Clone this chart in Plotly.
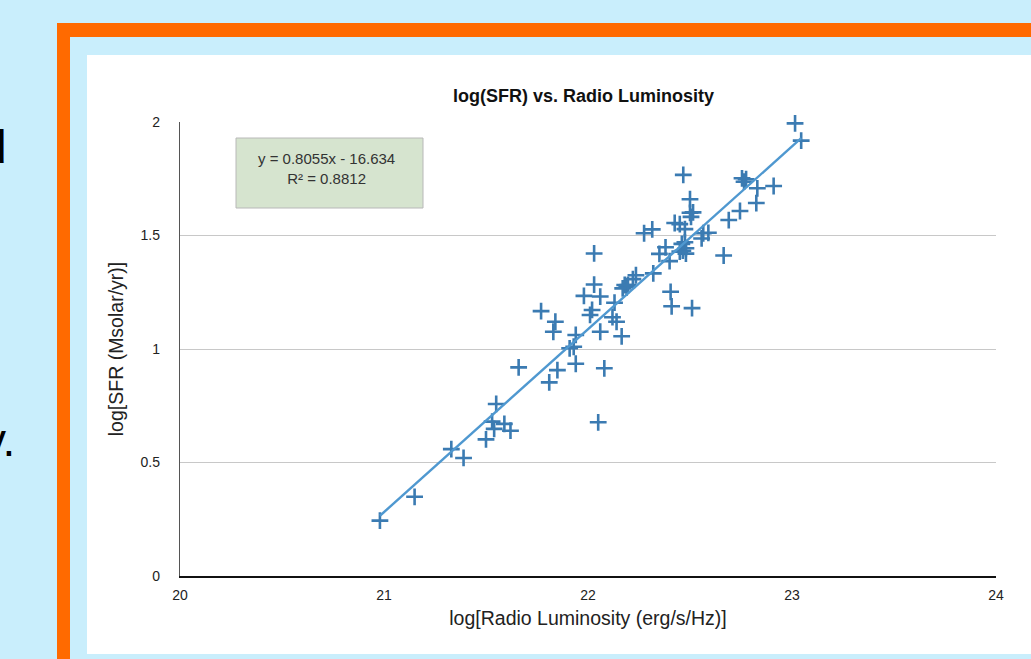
import plotly.graph_objects as go

# ---- data ----
radio_lum = [20.98, 21.15, 21.33, 21.39, 21.50, 21.55, 21.53, 21.54, 21.59, 21.62,
             21.66, 21.77, 21.84, 21.83, 21.81, 21.85, 21.94, 21.91, 21.93, 21.94,
             22.05, 22.08, 22.06, 22.165, 22.14, 22.12, 22.13, 22.01, 22.02, 21.98,
             22.06, 22.03, 22.03, 22.18, 22.19, 22.17, 22.22, 22.235, 22.32, 22.275,
             22.315, 22.35, 22.38, 22.40, 22.405, 22.41, 22.51, 22.425, 22.45, 22.465,
             22.48, 22.475, 22.46, 22.475, 22.50, 22.50, 22.515, 22.505, 22.557, 22.565,
             22.59, 22.665, 22.69, 22.745, 22.825, 22.755, 22.775, 22.765, 22.83, 22.91,
             23.015, 23.045, 22.467, 22.196, 22.48, 22.45]
log_sfr = [0.244, 0.349, 0.559, 0.520, 0.602, 0.758, 0.680, 0.648, 0.670, 0.640,
           0.919, 1.167, 1.120, 1.076, 0.853, 0.907, 1.062, 1.003, 1.010, 0.935,
           0.677, 0.915, 1.076, 1.056, 1.120, 1.140, 1.204, 1.150, 1.172, 1.234,
           1.231, 1.284, 1.421, 1.282, 1.272, 1.267, 1.308, 1.325, 1.333, 1.510,
           1.527, 1.419, 1.448, 1.387, 1.252, 1.188, 1.180, 1.555, 1.550, 1.433,
           1.420, 1.470, 1.463, 1.528, 1.660, 1.600, 1.602, 1.582, 1.487, 1.510,
           1.512, 1.412, 1.568, 1.608, 1.643, 1.752, 1.748, 1.737, 1.708, 1.718,
           1.994, 1.918, 1.767, 1.282, 1.444, 1.429]
fit_slope = 0.8055
fit_intercept = -16.634
fit_r2 = 0.8812
x_ticks = [20, 21, 22, 23, 24]
y_ticks = [0, 0.5, 1, 1.5, 2]

# ---- geometry ----
W, H = 1031, 659
L, R, T, B = 180, 35, 122, 83
PW, PH = W - L - R, H - T - B


def px(x):
    return (x - L) / PW


def py(y):
    return (T + PH - y) / PH


FONT = "Liberation Sans, Arial, Helvetica, sans-serif"

fit_x = [min(radio_lum), max(radio_lum)]
fit_y = [fit_slope * v + fit_intercept for v in fit_x]

fig = go.Figure()
fig.add_trace(go.Scatter(
    x=radio_lum, y=log_sfr, mode="markers", cliponaxis=False,
    marker=dict(symbol="cross-thin", size=12,
                line=dict(color="#3b7bb2", width=2.6)),
    showlegend=False, hoverinfo="x+y"))
fig.add_trace(go.Scatter(
    x=fit_x, y=fit_y, mode="lines",
    line=dict(color="#4f98d0", width=2.4),
    showlegend=False, hoverinfo="skip"))

shapes = [
    # orange frame
    dict(type="rect", xref="paper", yref="paper", x0=px(57), x1=px(1060),
         y0=py(23), y1=py(700), fillcolor="#ff6a00", line=dict(width=0), layer="below"),
    # inner light blue
    dict(type="rect", xref="paper", yref="paper", x0=px(70), x1=px(1060),
         y0=py(37), y1=py(700), fillcolor="#c9eefc", line=dict(width=0), layer="below"),
    # white panel
    dict(type="rect", xref="paper", yref="paper", x0=px(87), x1=px(1060),
         y0=py(55), y1=py(654), fillcolor="#ffffff", line=dict(width=0), layer="below"),
    # equation box
    dict(type="rect", xref="paper", yref="paper", x0=px(236), x1=px(423),
         y0=py(138), y1=py(208), fillcolor="#d6e4cf",
         line=dict(color="#b8b8b8", width=1), layer="above"),
]

annotations = [
    dict(xref="paper", yref="paper", x=px(326), y=py(168),
         text=f"y = {fit_slope}x - {abs(fit_intercept)}<br>R² = {fit_r2}",
         showarrow=False, align="center", xanchor="center", yanchor="middle",
         font=dict(family=FONT, size=15, color="#333333")),
    dict(xref="paper", yref="paper", x=px(583), y=py(96),
         text="<b>log(SFR) vs. Radio Luminosity</b>", showarrow=False,
         xanchor="center", yanchor="middle",
         font=dict(family=FONT, size=18, color="#111111")),
    dict(xref="paper", yref="paper", x=px(9), y=py(147),
         text="d", showarrow=False, xanchor="right", yanchor="middle",
         font=dict(family=FONT, size=46, color="#000000")),
    dict(xref="paper", yref="paper", x=px(17), y=py(440),
         text="y.", showarrow=False, xanchor="right", yanchor="middle",
         font=dict(family=FONT, size=46, color="#000000")),
]

fig.update_layout(
    width=W, height=H,
    margin=dict(l=L, r=R, t=T, b=B, pad=0),
    paper_bgcolor="#c9eefc", plot_bgcolor="#ffffff",
    shapes=shapes, annotations=annotations,
    font=dict(family=FONT, size=14, color="#222222"),
    xaxis=dict(range=[20, 24], tickvals=x_ticks, ticktext=[str(v) for v in x_ticks],
               showgrid=False, zeroline=False, showline=True, linecolor="#111111",
               linewidth=1.5, ticks="", ticklabelstandoff=5,
               tickfont=dict(family=FONT, size=14, color="#222222"),
               title=dict(text="log[Radio Luminosity (erg/s/Hz)]", standoff=10,
                          font=dict(family=FONT, size=19.5, color="#222222"))),
    yaxis=dict(range=[0, 2], tickvals=y_ticks, ticktext=["0", "0.5", "1", "1.5", "2"],
               showgrid=True, gridcolor="#c8c8c8", gridwidth=1.3, zeroline=False,
               showline=True, linecolor="#555555", linewidth=1.3, ticks="",
               ticklabelstandoff=16,
               tickfont=dict(family=FONT, size=14, color="#222222"),
               title=dict(text="log[SFR (Msolar/yr)]", standoff=11,
                          font=dict(family=FONT, size=19.5, color="#222222"))),
)

fig.write_html("out.html")
